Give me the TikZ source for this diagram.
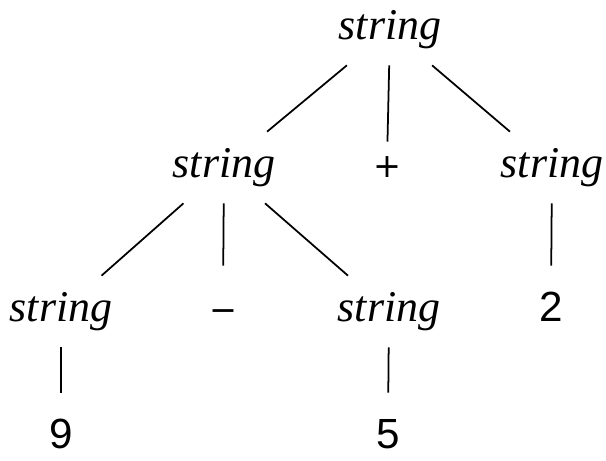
\documentclass[tikz,border=0pt]{standalone}
\usepackage{fontspec}
\setmainfont{Liberation Serif}
\newfontfamily\digitfont{Liberation Sans}
\newfontfamily\symfont{DejaVu Sans}

\begin{document}
\begin{tikzpicture}[
    nt/.style={
      font=\fontsize{25}{30}\selectfont\itshape,
      text height=0.62cm, text depth=0.2cm, inner sep=0.3cm
    },
    leaf/.style={text height=1.02cm, text depth=0pt, inner sep=0.1cm},
    sym/.style={font=\fontsize{19}{24}\selectfont\symfont, leaf},
    num/.style={font=\fontsize{24}{29}\selectfont\digitfont, leaf},
    edge/.style={line width=1pt}
  ]
    \useasboundingbox (0,0) rectangle (12.12,-9.22);

    \node[nt, anchor=base] (root) at (7.8,-0.8) {string};

    \node[nt, anchor=base] (left) at (4.48,-3.56) {string};
    \node[sym, anchor=base, text height=0.62cm] (plus) at (7.74,-3.56) {+};
    \node[nt, anchor=base] (right) at (11.04,-3.56) {string};

    \node[nt, anchor=base] (ll) at (1.22,-6.44) {string};
    \node[sym, anchor=base] (minus) at (4.46,-6.44) {\char"2212};
    \node[nt, anchor=base] (lr) at (7.78,-6.44) {string};
    \node[num, anchor=base] (two) at (11.02,-6.44) {2};

    \node[num, anchor=base] (nine) at (1.22,-8.98) {9};
    \node[num, anchor=base] (five) at (7.76,-8.98) {5};

    \draw[edge] (root) -- (left);
    \draw[edge] (root) -- (plus);
    \draw[edge] (root) -- (right);

    \draw[edge] (left) -- (ll);
    \draw[edge] (left) -- (minus);
    \draw[edge] (left) -- (lr);
    \draw[edge] (right) -- (two);

    \draw[edge] (ll) -- (nine);
    \draw[edge] (lr) -- (five);
  \end{tikzpicture}
\end{document}
